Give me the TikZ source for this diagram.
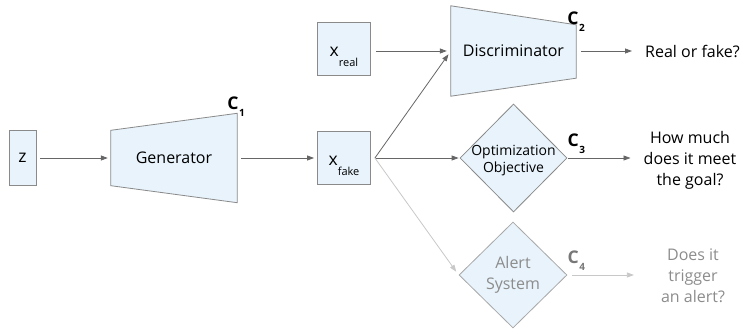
\documentclass[tikz,border=0pt]{standalone}
\usepackage{fontspec}
\setmainfont{Open Sans}
\usetikzlibrary{shapes.geometric,arrows.meta,calc,backgrounds}

\definecolor{boxfill}{HTML}{E8F3FB}
\definecolor{edgegray}{HTML}{8A8A8A}
\definecolor{linkgray}{HTML}{666666}
\definecolor{fadegray}{HTML}{C8C8C8}
\definecolor{fadeedge}{HTML}{A8A8A8}
\definecolor{fadetext}{HTML}{8C8C8C}

\newcommand{\mainsize}{\fontsize{16}{21}\selectfont}
\newcommand{\clabel}[1]{{\fontsize{17.5}{17.5}\selectfont\bfseries C}\kern0.5pt\raisebox{-7pt}{\fontsize{10}{10}\selectfont\bfseries #1}}
\newcommand{\xsub}[1]{{\fontsize{17.5}{17.5}\selectfont x}\raisebox{-10pt}{\fontsize{11}{11}\selectfont #1}}

\begin{document}
\begin{tikzpicture}[x=1pt,y=-1pt,
  every node/.style={font=\mainsize, text=black},
  block/.style={draw=edgegray, fill=boxfill, line width=0.8pt, inner sep=0pt},
  xbox/.style={block, minimum width=53pt, minimum height=53pt, text height=18pt, text depth=2pt},
  trap/.style={inner sep=0pt},
  decision/.style={block, diamond, inner sep=0pt},
  link/.style={draw=linkgray, line width=0.8pt, -{Triangle[length=7pt,width=5pt]}},
  fadelink/.style={link, draw=fadegray},
  tag/.style={anchor=base west, inner sep=0pt}]
\useasboundingbox (0,0) rectangle (741,331);

% input noise and generator
\node[block, minimum width=27pt, minimum height=55pt] (z) at (22.5,158) {\fontsize{17.5}{17.5}\selectfont z};
\node[trap, minimum width=126pt, minimum height=89pt] (gen) at (174,158) {Generator};

% samples
\node[xbox] (xreal) at (344,49) {\xsub{real}};
\node[xbox] (xfake) at (344,158) {\xsub{fake}};

% discriminator
\node[trap, minimum width=125pt, minimum height=90pt] (disc) at (513.5,51) {Discriminator};

% objective and alert checks
\node[decision, minimum width=107pt, minimum height=108pt] (opt) at (513.5,158)
  {\makebox[0pt]{\raisebox{-6.5pt}[0pt][0pt]{\fontsize{14}{16.5}\selectfont\begin{tabular}{@{}c@{}}Optimization\\Objective\end{tabular}}}};
\node[decision, draw=fadeedge, minimum width=108pt, minimum height=106pt] (alert) at (513,275)
  {\makebox[0pt]{\color{fadetext}\begin{tabular}{@{}c@{}}Alert\\System\end{tabular}}};

% trapezoid bodies behind their labels
\begin{scope}[on background layer]
  \draw[block] ($(gen.north west)+(0,17)$) -- (gen.north east) -- (gen.south east)
    -- ($(gen.south west)+(0,-17)$) -- cycle;
  \draw[block] (disc.north west) -- ($(disc.north east)+(0,19)$)
    -- ($(disc.south east)+(0,-18)$) -- (disc.south west) -- cycle;
\end{scope}

% outcome texts
\node[anchor=west, inner sep=0pt] (rof) at (645,51) {Real or fake?};
\node[align=center, inner sep=0pt] (goal) at (690,160) {How much\\does it meet\\the goal?};
\node[align=center, inner sep=0pt, text=fadetext] (alerttxt) at (693,276) {Does it\\trigger\\an alert?};

% constraint tags
\node[tag] (c1) at ($(gen.north east)+(-10,-4)$) {\clabel{1}};
\node[tag] (c2) at ($(disc.north east)+(-9,19)$) {\clabel{2}};
\node[tag] (c3) at ($(opt.east)+(0,-11)$) {\clabel{3}};
\node[tag, text=fadetext!85!black] (c4) at ($(alert.east)+(0,-12)$) {\clabel{4}};

% connectors
\coordinate (fork) at ($(xfake.east)+(4,0)$);
\draw[link, shorten <=4pt, shorten >=3pt] (z.east) -- (gen.west);
\draw[link, shorten <=4pt, shorten >=3pt] (gen.east) -- (xfake.west);
\draw[link, shorten <=5pt, shorten >=4pt] (xreal.east |- disc.west) -- (disc.west);
\draw[link, shorten >=4pt] (fork) -- (disc.west);
\draw[link, shorten >=1pt] (fork) -- (opt.west);
\draw[fadelink, shorten >=4pt] (fork) -- (alert.west);
\draw[link, shorten <=5pt, shorten >=13pt] (disc.east) -- (rof.west);
\draw[link, shorten <=1pt, shorten >=13pt] (opt.east) -- (goal.west |- opt.east);
\draw[fadelink, shorten <=5pt, shorten >=27pt] (alert.east) -- (alerttxt.west |- alert.east);
\end{tikzpicture}
\end{document}
